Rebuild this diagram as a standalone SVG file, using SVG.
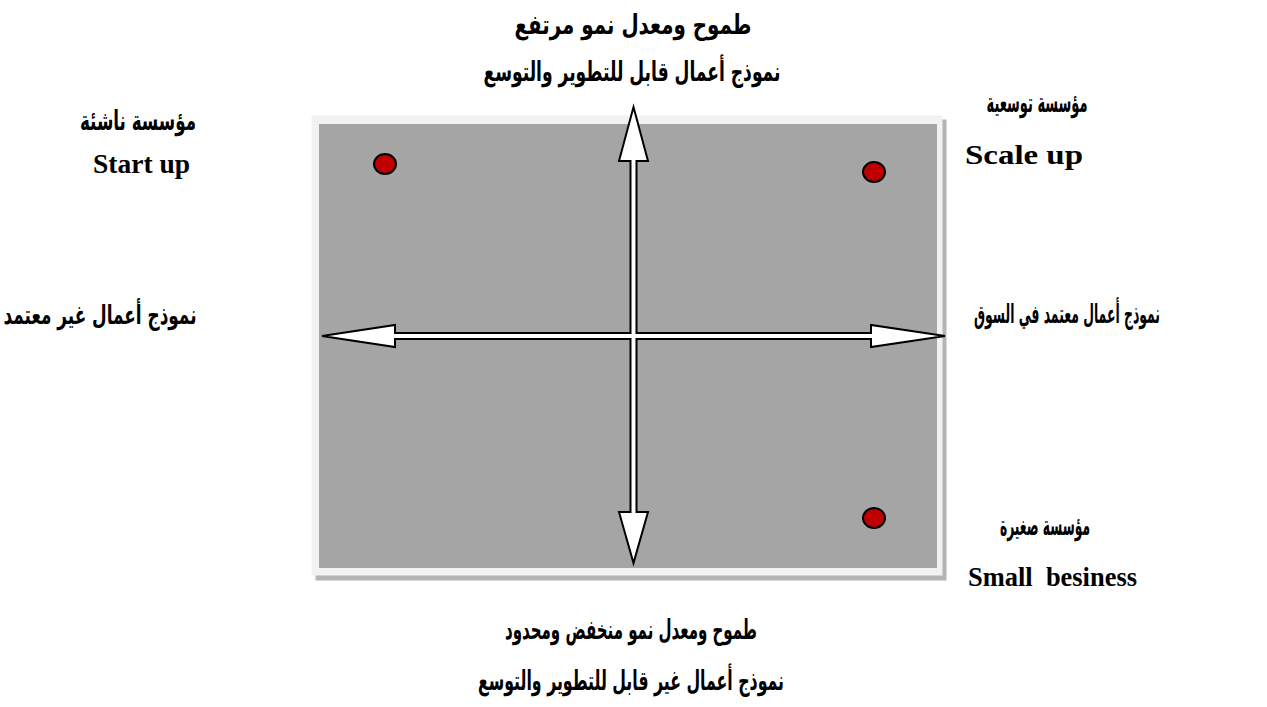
<svg xmlns="http://www.w3.org/2000/svg" width="1267" height="707" viewBox="0 0 1267 707">
<style>
text.ar{font-family:"DejaVu Sans","Noto Sans",sans-serif;font-weight:bold;fill:#000}
text.en{font-family:"Liberation Serif",serif;font-weight:bold;fill:#000}
.dot{fill:#c00000;stroke:#000;stroke-width:2}
</style>
<rect width="1267" height="707" fill="#fff"/>
<g id="panel">
<rect x="315.5" y="119.5" width="631" height="461" fill="#b4b4b4"/>
<rect x="311.5" y="115.5" width="631" height="460" fill="#f2f2f2"/>
<rect x="319" y="124" width="618" height="444" fill="#a5a5a5"/>
</g>
<g id="connectors">
<polygon points="633.5,107 648,161 636.5,161 636.5,333 871,333 871,325 945,336 871,347 871,339 636.5,339 636.5,512 648,512 633.5,563 619,512 630.5,512 630.5,339 395,339 395,347 322,336 395,325 395,333 630.5,333 630.5,161 619,161" fill="#fff" stroke="#000" stroke-width="2" stroke-linejoin="miter"/>
</g>
<g id="dot-startup"><ellipse class="dot" cx="385" cy="164" rx="11" ry="10"/></g>
<g id="dot-scaleup"><ellipse class="dot" cx="874" cy="172" rx="11" ry="10"/></g>
<g id="dot-small"><ellipse class="dot" cx="874" cy="518" rx="11" ry="10"/></g>
<g id="label-top">
<text class="ar" font-size="27" x="633" y="34" text-anchor="middle" textLength="237" lengthAdjust="spacingAndGlyphs">طموح ومعدل نمو مرتفع</text>
<text class="ar" font-size="27" x="632" y="81" text-anchor="middle" textLength="297" lengthAdjust="spacingAndGlyphs">نموذج أعمال قابل للتطوير والتوسع</text>
</g>
<g id="label-startup">
<text class="ar" font-size="27" x="138" y="130" text-anchor="middle" textLength="116" lengthAdjust="spacingAndGlyphs">مؤسسة ناشئة</text>
<text class="en" font-size="27" x="93" y="173" textLength="97" lengthAdjust="spacingAndGlyphs">Start up</text>
</g>
<g id="label-scaleup">
<text class="ar" font-size="27" x="1037" y="112" text-anchor="middle" textLength="101" lengthAdjust="spacingAndGlyphs">مؤسسة توسعية</text>
<text class="en" font-size="27" x="965" y="164" textLength="118" lengthAdjust="spacingAndGlyphs">Scale up</text>
</g>
<g id="label-left">
<text class="ar" font-size="26" x="100" y="324" text-anchor="middle" textLength="193" lengthAdjust="spacingAndGlyphs">نموذج أعمال غير معتمد</text>
</g>
<g id="label-right">
<text class="ar" font-size="26" x="1067" y="323" text-anchor="middle" textLength="186" lengthAdjust="spacingAndGlyphs">نموذج أعمال معتمد في السوق</text>
</g>
<g id="label-small">
<text class="ar" font-size="27" x="1045" y="535" text-anchor="middle" textLength="90" lengthAdjust="spacingAndGlyphs">مؤسسة صغيرة</text>
<text class="en" font-size="27" x="968" y="586" textLength="169" lengthAdjust="spacingAndGlyphs" xml:space="preserve">Small  besiness</text>
</g>
<g id="label-bottom">
<text class="ar" font-size="27" x="631" y="639" text-anchor="middle" textLength="252" lengthAdjust="spacingAndGlyphs">طموح ومعدل نمو منخفض ومحدود</text>
<text class="ar" font-size="27" x="631" y="690" text-anchor="middle" textLength="306" lengthAdjust="spacingAndGlyphs">نموذج أعمال غير قابل للتطوير والتوسع</text>
</g>
</svg>
